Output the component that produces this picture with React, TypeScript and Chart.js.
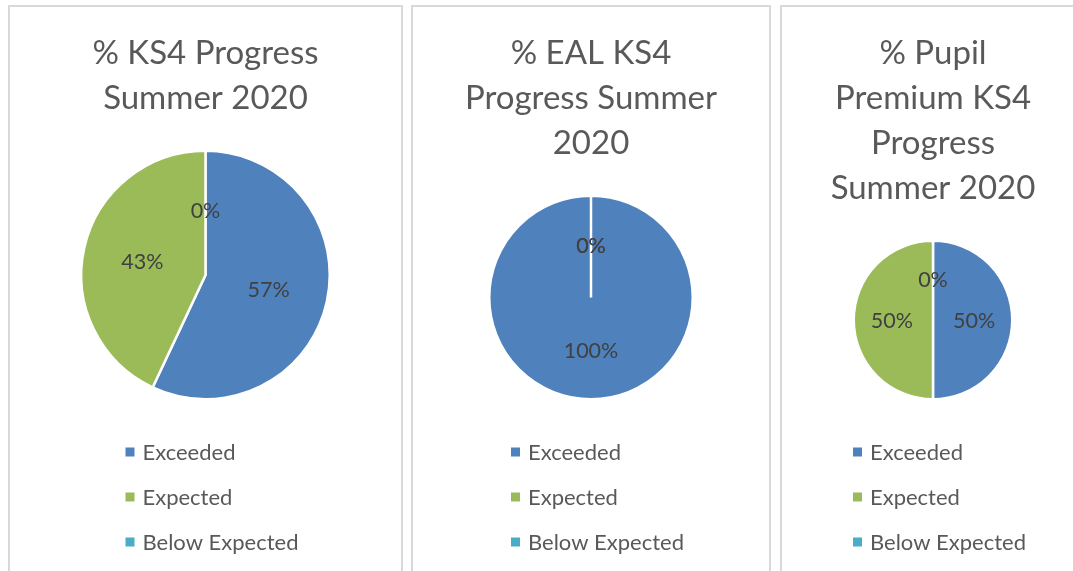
import React, { useEffect, useRef } from "react";
import { Chart, registerables } from "chart.js";

Chart.register(...registerables);

const categories = ["Exceeded", "Expected", "Below Expected"];
const ks4Values = [57, 43, 0];
const ealValues = [100, 0, 0];
const ppValues = [50, 50, 0];
const ks4Title = ["% KS4 Progress", "Summer 2020"];
const ealTitle = ["% EAL KS4", "Progress Summer", "2020"];
const ppTitle = ["% Pupil", "Premium KS4", "Progress", "Summer 2020"];
const sliceColors = ["#4f81bd", "#9bbb59", "#4bacc6"];

const FONT = "Lato, 'Open Sans', sans-serif";
const PANEL_TOP = 5;
const PANEL_HEIGHT = 620;
const BORDER = 2;
const PIE_BOTTOM = 400.5; // absolute page y
const LEGEND_Y = [452, 497, 542]; // absolute page y

const dataLabelPlugin = {
  id: "sliceLabels",
  afterDatasetsDraw(chart: any) {
    const ctx = chart.ctx;
    const meta = chart.getDatasetMeta(0);
    const values = chart.data.datasets[0].data as number[];
    ctx.save();
    ctx.font = `21.5px ${FONT}`;
    ctx.fillStyle = "#404040";
    ctx.textAlign = "center";
    ctx.textBaseline = "middle";
    meta.data.forEach((arc: any, i: number) => {
      const p = arc.getProps(["x", "y", "startAngle", "endAngle", "outerRadius"], true);
      const mid = (p.startAngle + p.endAngle) / 2;
      const d = p.outerRadius * 0.52;
      ctx.fillText(`${values[i]}%`, p.x + Math.cos(mid) * d, p.y + Math.sin(mid) * d + 1);
    });
    ctx.restore();
  },
};

const legendPlugin = {
  id: "vertLegend",
  afterDraw(chart: any) {
    const ctx = chart.ctx;
    const labels = chart.data.labels as string[];
    const colors = chart.data.datasets[0].backgroundColor as string[];
    const cx = chart.width / 2;
    const offY = PANEL_TOP + BORDER;
    ctx.save();
    ctx.font = `22px ${FONT}`;
    ctx.textBaseline = "middle";
    ctx.textAlign = "left";
    labels.forEach((lab, i) => {
      const y = LEGEND_Y[i] - offY;
      ctx.fillStyle = colors[i];
      ctx.fillRect(cx - 80, y - 4.5, 9, 9);
      ctx.fillStyle = "#595959";
      ctx.fillText(lab, cx - 80 + 17, y + 1);
    });
    ctx.restore();
  },
};

function Panel(props: { left: number; width: number; title: string[]; values: number[] }) {
  const ref = useRef<HTMLCanvasElement>(null);
  useEffect(() => {
    if (!ref.current) return;
    const canvasH = PANEL_HEIGHT - 2 * BORDER;
    const chart = new Chart(ref.current, {
      type: "pie",
      data: {
        labels: categories,
        datasets: [
          {
            data: props.values,
            backgroundColor: sliceColors,
            borderColor: "#ffffff",
            borderWidth: 2.5,
          },
        ],
      },
      options: {
        animation: false,
        responsive: false,
        maintainAspectRatio: false,
        layout: { padding: { bottom: canvasH - (PIE_BOTTOM - PANEL_TOP - BORDER) } },
        plugins: {
          legend: { display: false },
          tooltip: { enabled: false },
          title: {
            display: true,
            text: props.title,
            color: "#595959",
            font: { family: FONT, size: 33, weight: "normal", lineHeight: 45 / 33 },
            padding: { top: 24, bottom: 28.5 },
          },
        },
      },
      plugins: [dataLabelPlugin, legendPlugin],
    });
    return () => chart.destroy();
  }, []);
  return (
    <div
      style={{
        position: "absolute",
        left: props.left,
        top: PANEL_TOP,
        width: props.width - 2 * BORDER,
        height: PANEL_HEIGHT - 2 * BORDER,
        border: `${BORDER}px solid #d9d9d9`,
        background: "#ffffff",
      }}
    >
      <canvas
        ref={ref}
        width={props.width - 2 * BORDER}
        height={PANEL_HEIGHT - 2 * BORDER}
        style={{ display: "block" }}
      />
    </div>
  );
}

export default function App() {
  return (
    <div
      style={{
        position: "fixed",
        left: 0,
        top: 0,
        width: 1073,
        height: 571,
        overflow: "hidden",
        background: "#ffffff",
      }}
    >
      <Panel left={8} width={395} title={ks4Title} values={ks4Values} />
      <Panel left={411} width={360} title={ealTitle} values={ealValues} />
      <Panel left={780} width={306} title={ppTitle} values={ppValues} />
    </div>
  );
}
